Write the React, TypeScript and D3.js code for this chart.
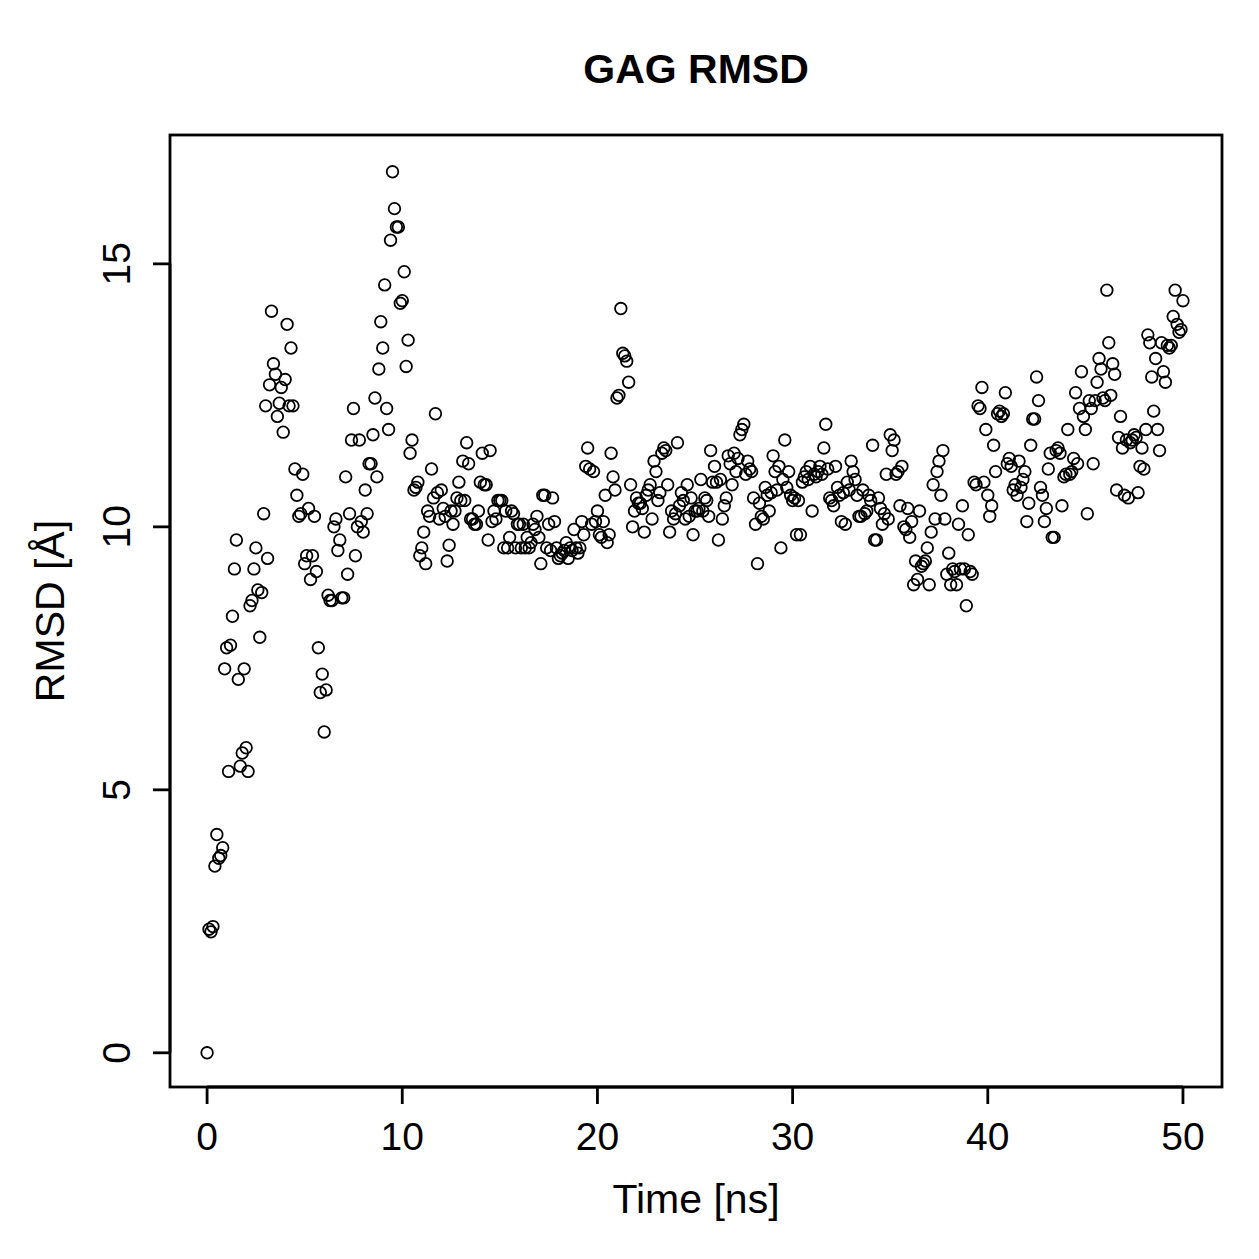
import React from "react";
import * as d3 from "d3";

// Sampling step of the trajectory (ns)
const TIME_STEP = 0.1;

// RMSD (Å) per frame, ten frames per nanosecond
const rmsd: number[] = [
  0, 2.35, 2.3, 2.4, 3.55, 4.15, 3.7, 3.75, 3.9, 7.3,
  7.7, 5.35, 7.75, 8.3, 9.2, 9.75, 7.1, 5.45, 5.7, 7.3,
  5.8, 5.35, 8.5, 8.6, 9.2, 9.6, 8.8, 7.9, 8.75, 10.25,
  12.3, 9.4, 12.7, 14.1, 13.1, 12.9, 12.1, 12.35, 12.65, 11.8,
  12.8, 13.85, 12.3, 13.4, 12.3, 11.1, 10.6, 10.2, 10.25, 11.0,
  9.3, 9.45, 10.35, 9.0, 9.45, 10.2, 9.15, 7.7, 6.85, 7.2,
  6.1, 6.9, 8.7, 8.6, 8.6, 10.0, 10.15, 9.55, 9.75, 8.65,
  8.65, 10.95, 9.1, 10.25, 11.65, 12.25, 9.45, 10.0, 11.65, 10.1,
  9.9, 10.7, 10.25, 11.2, 11.2, 11.75, 12.45, 10.95, 13.0, 13.9,
  13.4, 14.6, 12.25, 11.85, 15.45, 16.75, 16.05, 15.7, 15.7, 14.25,
  14.3, 14.85, 13.05, 13.55, 11.4, 11.65, 10.7, 10.75, 10.85, 9.45,
  9.6, 9.9, 9.3, 10.3, 10.2, 11.1, 10.55, 12.15, 10.65, 10.15,
  10.7, 10.35, 10.2, 9.35, 9.65, 10.3, 10.05, 10.3, 10.55, 10.85,
  10.5, 11.25, 10.5, 11.6, 11.2, 10.15, 10.15, 10.05, 10.05, 10.3,
  10.85, 11.4, 10.8, 10.8, 9.75, 11.45, 10.1, 10.3, 10.15, 10.5,
  10.5, 10.5, 9.6, 10.3, 9.6, 9.8, 10.3, 10.25, 9.6, 10.05,
  10.05, 9.6, 10.05, 9.6, 9.8, 9.6, 9.7, 10.05, 9.95, 10.2,
  9.8, 9.3, 10.6, 10.6, 9.6, 10.05, 9.55, 10.55, 10.1, 9.6,
  9.4, 9.45, 9.5, 9.55, 9.7, 9.4, 9.6, 9.55, 9.95, 9.6,
  9.5, 9.6, 10.1, 9.85, 11.15, 11.5, 11.1, 10.05, 11.05, 10.1,
  10.3, 9.85, 9.8, 10.1, 10.6, 9.7, 9.85, 11.4, 10.95, 10.7,
  12.45, 12.5, 14.15, 13.3, 13.25, 13.15, 12.75, 10.8, 10.0, 10.3,
  10.55, 10.45, 10.45, 10.35, 9.9, 10.6, 10.7, 10.8, 10.15, 11.25,
  11.05, 10.5, 10.65, 11.4, 11.5, 11.45, 10.8, 9.9, 10.3, 10.15,
  10.25, 11.6, 10.4, 10.65, 10.5, 10.15, 10.8, 10.2, 10.55, 9.85,
  10.3, 10.3, 10.35, 10.9, 10.3, 10.55, 10.5, 10.2, 11.45, 10.85,
  11.15, 10.85, 9.75, 10.9, 10.15, 10.4, 10.55, 11.35, 11.2, 10.8,
  11.4, 11.05, 11.3, 11.75, 11.85, 11.95, 11.0, 11.25, 11.1, 11.05,
  10.55, 10.05, 9.3, 10.45, 10.2, 10.15, 10.75, 10.6, 10.3, 10.65,
  11.35, 11.05, 10.7, 11.15, 9.6, 10.9, 11.65, 10.75, 11.05, 10.6,
  10.5, 10.55, 9.85, 10.5, 9.85, 10.85, 10.95, 11.05, 10.9, 11.15,
  10.3, 11.0, 10.95, 11.05, 11.15, 11.0, 11.5, 11.95, 11.1, 10.55,
  10.5, 10.4, 11.15, 10.75, 10.6, 10.1, 10.65, 10.05, 10.85, 10.7,
  11.25, 11.05, 10.9, 10.6, 10.2, 10.2, 10.7, 10.25, 10.3, 10.6,
  10.5, 11.55, 9.75, 9.75, 10.55, 10.35, 10.05, 10.25, 11.0, 10.15,
  11.75, 11.45, 11.65, 11.0, 11.05, 10.4, 11.15, 10.0, 9.95, 10.35,
  9.8, 10.1, 8.9, 9.35, 9.0, 10.3, 9.25, 9.3, 9.35, 9.6,
  8.9, 9.9, 10.8, 10.15, 11.05, 11.25, 10.6, 11.45, 10.15, 9.1,
  9.5, 8.9, 9.2, 9.15, 8.9, 10.05, 9.2, 10.4, 9.2, 8.5,
  9.85, 9.15, 9.1, 10.85, 10.8, 12.3, 12.25, 12.65, 10.85, 11.85,
  10.6, 10.2, 10.4, 11.55, 11.05, 12.15, 12.2, 12.1, 12.15, 12.55,
  11.2, 11.3, 11.15, 10.7, 10.8, 10.6, 11.25, 10.75, 10.9, 11.05,
  10.1, 10.45, 11.55, 12.05, 12.05, 12.85, 12.4, 10.75, 10.6, 10.1,
  10.35, 11.1, 11.4, 9.8, 9.8, 11.45, 11.5, 11.4, 10.4, 10.95,
  11.0, 11.85, 11.0, 11.05, 11.3, 12.55, 11.2, 12.25, 12.95, 12.1,
  11.85, 10.25, 12.4, 12.25, 11.2, 12.4, 12.75, 13.2, 13.0, 12.45,
  12.4, 14.5, 13.5, 12.5, 13.1, 12.9, 10.7, 11.7, 12.1, 11.5,
  10.6, 11.65, 10.55, 11.6, 11.65, 11.75, 11.7, 10.65, 11.15, 11.5,
  11.1, 11.85, 13.65, 13.5, 12.85, 12.2, 13.2, 11.85, 11.45, 13.5,
  12.95, 12.75, 13.45, 13.4, 13.45, 14.0, 14.5, 13.85, 13.7, 13.75,
  14.3,
];

const xTicks = [0, 10, 20, 30, 40, 50];
const yTicks = [0, 5, 10, 15];

const TITLE = "GAG RMSD";
const X_LABEL = "Time [ns]";
const Y_LABEL = "RMSD [Å]";

const W = 1259;
const H = 1259;
const box = { left: 170, right: 1222, top: 135, bottom: 1087 };
const FONT = "'Liberation Sans', Arial, Helvetica, sans-serif";

export default function App() {
  const points = rmsd.map((v, i) => ({ t: +(i * TIME_STEP).toFixed(1), v }));

  const x = d3.scaleLinear().domain([-1.9, 52.0]).range([box.left, box.right]);
  const y = d3.scaleLinear().domain([-0.65, 17.45]).range([box.bottom, box.top]);

  const cx = (box.left + box.right) / 2;
  const cy = (box.top + box.bottom) / 2;

  return (
    <svg
      width={W}
      height={H}
      viewBox={`0 0 ${W} ${H}`}
      style={{ position: "absolute", left: 0, top: 0, background: "#fff" }}
      fontFamily={FONT}
    >
      <rect x={0} y={0} width={W} height={H} fill="#fff" />

      {/* data points */}
      <g fill="none" stroke="#000" strokeWidth={1.8}>
        {points.map((p, i) => (
          <circle key={i} cx={x(p.t)} cy={y(p.v)} r={5.8} />
        ))}
      </g>

      {/* plot frame */}
      <rect
        x={box.left}
        y={box.top}
        width={box.right - box.left}
        height={box.bottom - box.top}
        fill="none"
        stroke="#000"
        strokeWidth={2.8}
      />

      {/* x axis */}
      <g stroke="#000" strokeWidth={2.8}>
        <line x1={x(xTicks[0])} x2={x(xTicks[xTicks.length - 1])} y1={box.bottom} y2={box.bottom} />
        {xTicks.map((t) => (
          <line key={t} x1={x(t)} x2={x(t)} y1={box.bottom} y2={box.bottom + 17} />
        ))}
      </g>
      {xTicks.map((t) => (
        <text key={t} x={x(t)} y={1150} fontSize={39} textAnchor="middle" fill="#000">
          {t}
        </text>
      ))}

      {/* y axis */}
      <g stroke="#000" strokeWidth={2.8}>
        <line x1={box.left} x2={box.left} y1={y(yTicks[0])} y2={y(yTicks[yTicks.length - 1])} />
        {yTicks.map((t) => (
          <line key={t} x1={box.left - 17} x2={box.left} y1={y(t)} y2={y(t)} />
        ))}
      </g>
      {yTicks.map((t) => (
        <text
          key={t}
          transform={`translate(130, ${y(t)}) rotate(-90)`}
          fontSize={39}
          textAnchor="middle"
          fill="#000"
        >
          {t}
        </text>
      ))}

      {/* titles */}
      <text x={cx} y={83} fontSize={41} fontWeight="bold" textAnchor="middle" fill="#000">
        {TITLE}
      </text>
      <text x={cx} y={1213} fontSize={41} textAnchor="middle" fill="#000">
        {X_LABEL}
      </text>
      <text
        transform={`translate(64, ${cy}) rotate(-90)`}
        fontSize={41}
        textAnchor="middle"
        fill="#000"
      >
        {Y_LABEL}
      </text>
    </svg>
  );
}
